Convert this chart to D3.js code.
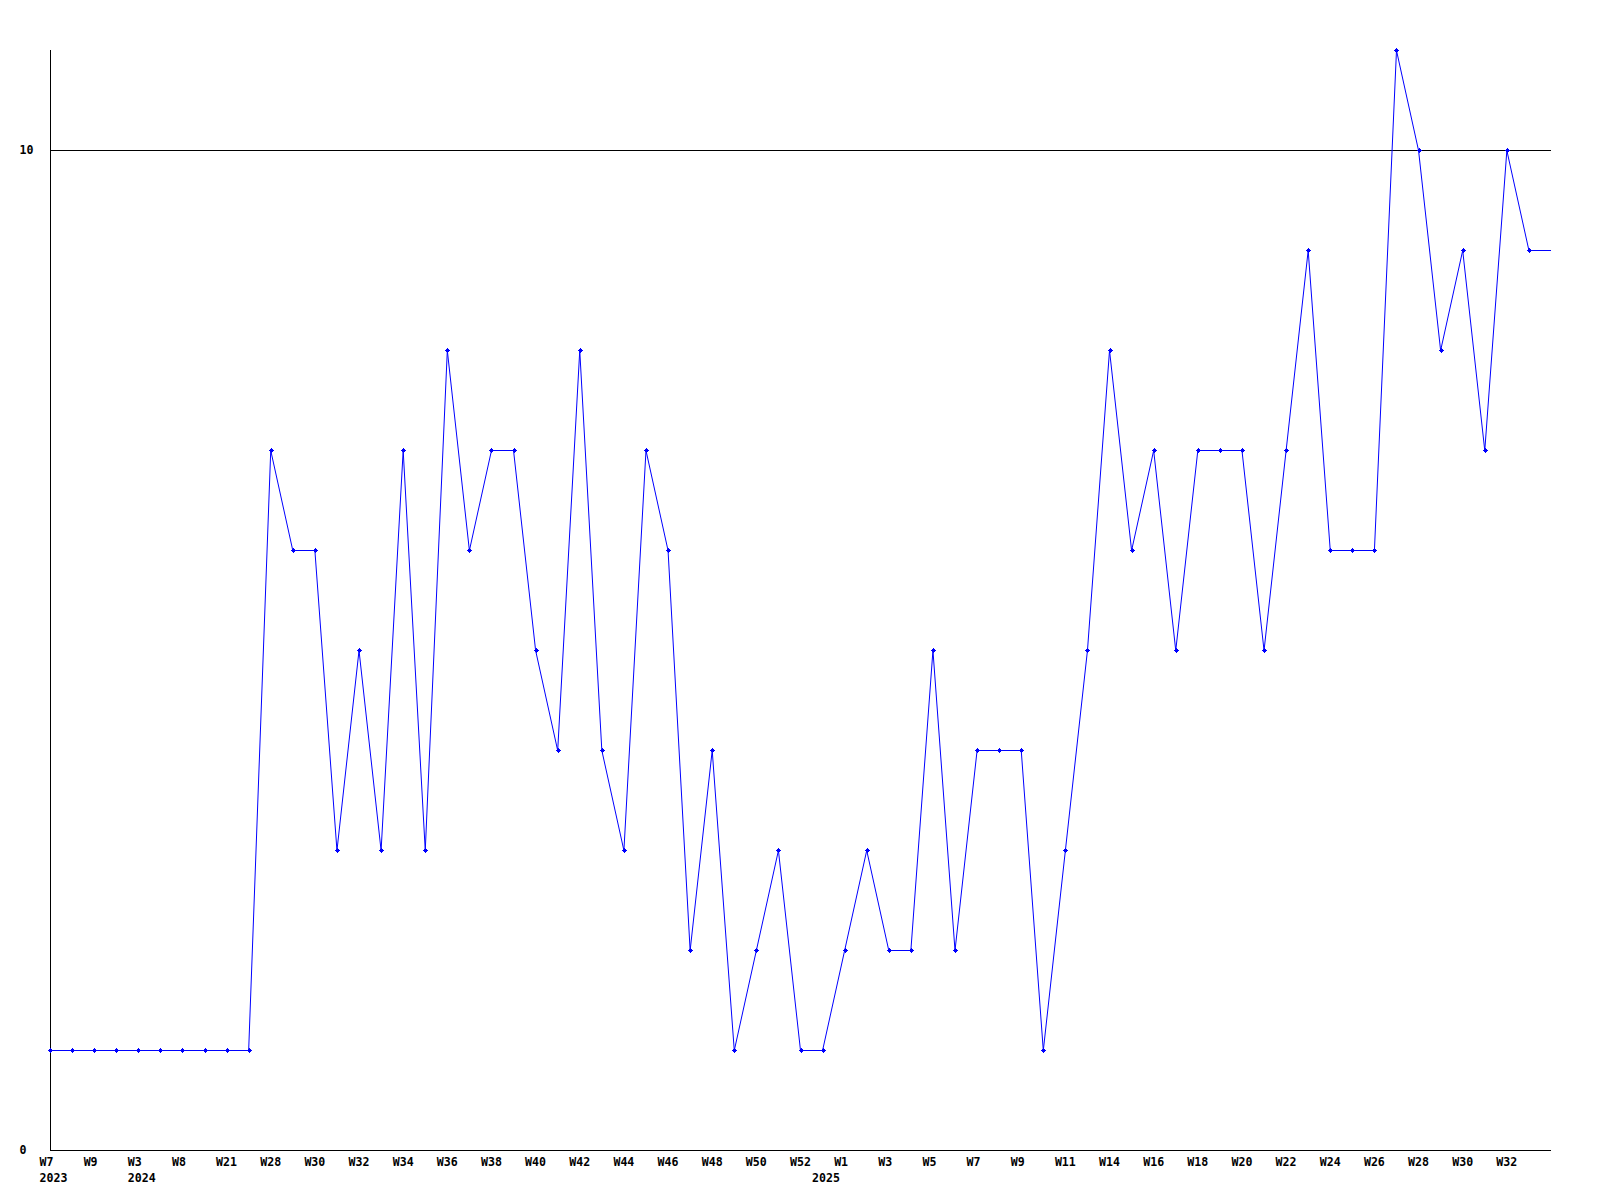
<!DOCTYPE html>
<html>
<head>
<meta charset="utf-8">
<script src="https://cdn.jsdelivr.net/npm/d3@7"></script>
<style>
  html, body { margin: 0; padding: 0; background: #fff; }
  text { font-family: "DejaVu Sans Mono", monospace; font-weight: bold; font-size: 11.6px; fill: #000; }
</style>
</head>
<body>
<svg id="chart" width="1600" height="1200"></svg>
<script>
// Weekly values, one per point (index order)
const values = [
  1, 1, 1, 1, 1, 1, 1, 1, 1, 1,
  7, 6, 6, 3, 5, 3, 7, 3, 8, 6,
  7, 7, 5, 4, 8, 4, 3, 7, 6, 2,
  4, 1, 2, 3, 1, 1, 2, 3, 2, 2,
  5, 2, 4, 4, 4, 1, 3, 5, 8, 6,
  7, 5, 7, 7, 7, 5, 7, 9, 6, 6,
  6, 11, 10, 8, 9, 7, 10, 9
];
// Week labels shown at every other point
const weekLabels = [
  "W7", "W9", "W3", "W8", "W21", "W28", "W30", "W32", "W34", "W36",
  "W38", "W40", "W42", "W44", "W46", "W48", "W50", "W52", "W1", "W3",
  "W5", "W7", "W9", "W11", "W14", "W16", "W18", "W20", "W22", "W24",
  "W26", "W28", "W30", "W32"
];
// Year labels and the point index where each year starts
const yearLabels = ["2023", "2024", "2025"];
const yearIndex = [0, 4, 35];
const yTicks = [0, 10];
const yMax = 11;

const svg = d3.select("#chart");
const mLeft = 50, mRight = 1551, mTop = 50, mBottom = 1150;

const x = d3.scaleLinear().domain([0, values.length]).range([mLeft, mRight]);
const y = d3.scaleLinear().domain([0, yMax]).range([mBottom, mTop]);

// gridline at 10
svg.append("g").selectAll("line")
  .data(yTicks.filter(d => d > 0))
  .join("line")
  .attr("x1", mLeft).attr("x2", mRight)
  .attr("y1", d => y(d) + 0.5).attr("y2", d => y(d) + 0.5)
  .attr("stroke", "#000").attr("stroke-width", 1);

// axes
svg.append("line").attr("x1", mLeft + 0.5).attr("x2", mLeft + 0.5)
  .attr("y1", y(yMax)).attr("y2", y(0) + 0.5)
  .attr("stroke", "#000").attr("stroke-width", 1);
svg.append("line").attr("x1", mLeft).attr("x2", mRight)
  .attr("y1", y(0) + 0.5).attr("y2", y(0) + 0.5)
  .attr("stroke", "#000").attr("stroke-width", 1);

// y labels
svg.append("g").selectAll("text")
  .data(yTicks)
  .join("text")
  .attr("x", 19.5)
  .attr("y", d => y(d) + 4)
  .text(d => d);

// x week labels
svg.append("g").selectAll("text")
  .data(weekLabels)
  .join("text")
  .attr("x", (d, i) => x(i * 2) - 10.5)
  .attr("y", 1166)
  .text(d => d);

// year labels
svg.append("g").selectAll("text")
  .data(yearLabels)
  .join("text")
  .attr("x", (d, i) => x(yearIndex[i]) - 10.5)
  .attr("y", 1182)
  .text(d => d);

// line (last value carried to the end of the axis)
const linePts = values.map((v, i) => [i, v]).concat([[values.length, values[values.length - 1]]]);
const line = d3.line().x(d => x(d[0])).y(d => y(d[1]) + 0.5);
svg.append("path")
  .attr("d", line(linePts))
  .attr("fill", "none")
  .attr("stroke", "#0000ff")
  .attr("stroke-width", 1);

// markers
const mk = svg.append("g").attr("fill", "#0000ff");
values.forEach((v, i) => {
  const cx = Math.round(x(i)), cy = Math.round(y(v));
  mk.append("rect").attr("x", cx - 1).attr("y", cy - 1).attr("width", 3).attr("height", 3);
  mk.append("rect").attr("x", cx).attr("y", cy - 2).attr("width", 1).attr("height", 5);
  mk.append("rect").attr("x", cx - 2).attr("y", cy).attr("width", 5).attr("height", 1);
});
</script>
</body>
</html>
